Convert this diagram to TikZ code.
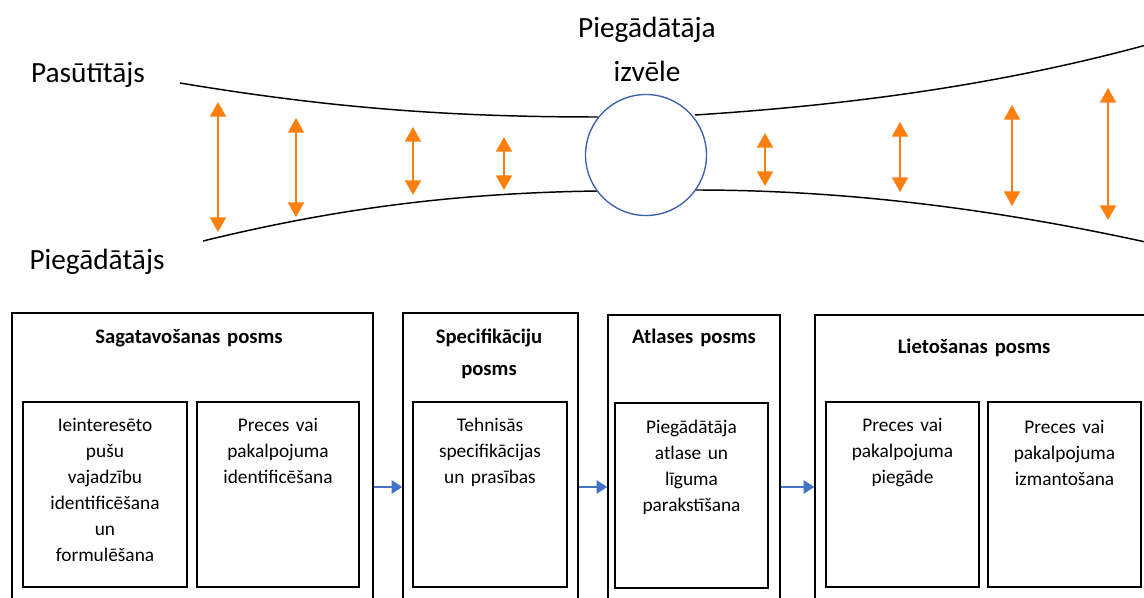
\documentclass[tikz,border=0pt]{standalone}
\usepackage{fontspec}
\setmainfont{Carlito}
\usetikzlibrary{arrows.meta,fit}
\definecolor{orng}{RGB}{255,127,14}
\definecolor{circblue}{RGB}{58,93,174}
\definecolor{arrblue}{RGB}{68,114,196}
\tikzset{
  lbl/.style={font=\fontsize{22}{33}\selectfont, inner sep=0, align=center, anchor=base, text width=150pt},
  ttl/.style={font=\bfseries\fontsize{15.5}{24}\selectfont, inner sep=0, align=center, anchor=base, text width=170pt},
  txt/.style={font=\fontsize{14.5}{19.5}\selectfont, inner sep=0, align=center, anchor=base, text width=110pt},
  obox/.style={draw, line width=1.1pt, inner sep=0},
  ibox/.style={draw, line width=1.1pt, inner sep=0},
  oarr/.style={orng, line width=1.5pt, {Triangle[width=12pt,length=11pt]}-{Triangle[width=12pt,length=11pt]}},
  barr/.style={arrblue, line width=1.4pt, -{Triangle[width=10pt,length=8pt]}},
  curveline/.style={black, line width=1.1pt},
}
\begin{document}
\begin{tikzpicture}[x=0.75pt,y=-0.75pt]
\useasboundingbox (0,0) rectangle (1144,598);
% funnel curves
\draw[curveline] (180,83) .. controls (330,108) and (450,117) .. (598,117);
\draw[curveline] (203,241) .. controls (330,210) and (450,193) .. (598,191);
\draw[curveline] (695,115) .. controls (850,105) and (1000,85) .. (1150,44);
\draw[curveline] (695,190) .. controls (850,190) and (1000,210) .. (1150,243);
\node[circle, draw=circblue, fill=white, line width=1pt, minimum size=90.75pt, inner sep=0] (sel) at (646,155) {};
% labels
\node[lbl] (pas) at (88,83) {Pasūtītājs};
\node[lbl] (pieg) at (97,270) {Piegādātājs};
\node[lbl] (izv) at (647,38) {Piegādātāja\\izvēle};
% orange arrows
\foreach \x/\a/\b in {218/102/232, 296/118/217, 413/127/195, 504/137/190, 765/133/186, 900/122/192, 1012/105/206, 1108/88/220}
  \draw[oarr] (\x,\a) -- (\x,\b);
% outer boxes
\node[obox, fit={(12,313) (373,601)}] (b1) {};
\node[obox, fit={(403,313) (578,601)}] (b2) {};
\node[obox, fit={(608,315) (780,601)}] (b3) {};
\node[obox, fit={(815,315) (1150,601)}] (b4) {};
% titles
\node[ttl] (t1) at (189,343) {Sagatavošanas posms};
\node[ttl] (t2) at (489,343) {Specifikāciju\\posms};
\node[ttl] (t3) at (694,343) {Atlases posms};
\node[ttl] (t4) at (974,353) {Lietošanas posms};
% inner boxes
\node[ibox, fit={(23,402) (187,587)}] (i1) {};
\node[ibox, fit={(197,402) (359,587)}] (i2) {};
\node[ibox, fit={(413,402) (567,587)}] (i3) {};
\node[ibox, fit={(615,403) (768,588)}] (i4) {};
\node[ibox, fit={(826,402) (979,587)}] (i5) {};
\node[ibox, fit={(988,402) (1141,587)}] (i6) {};
% inner texts
\node[txt] (x1) at (105,431) {Ieinteresēto\\pušu\\vajadzību\\identificēšana\\un\\formulēšana};
\node[txt] (x2) at (278,431) {Preces vai\\pakalpojuma\\identificēšana};
\node[txt] (x3) at (490,431) {Tehnisās\\specifikācijas\\un prasības};
\node[txt] (x4) at (691.5,433) {Piegādātāja\\atlase un\\līguma\\parakstīšana};
\node[txt] (x5) at (902.5,431) {Preces vai\\pakalpojuma\\piegāde};
\node[txt] (x6) at (1064.5,433) {Preces vai\\pakalpojuma\\izmantošana};
% blue arrows
\coordinate (ya) at (0,487);
\draw[barr] (b1.east |- ya) -- (b2.west |- ya);
\draw[barr] (b2.east |- ya) -- (b3.west |- ya);
\draw[barr] (b3.east |- ya) -- (b4.west |- ya);
\end{tikzpicture}
\end{document}
